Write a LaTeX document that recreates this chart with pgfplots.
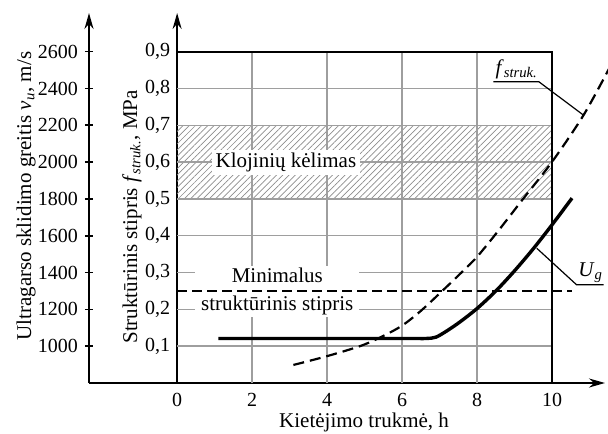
\documentclass[border=0pt]{standalone}
\usepackage{fontspec}
\setmainfont{Liberation Serif}
\usepackage{pgfplots}
\usepackage{pgfplotstable}
\pgfplotsset{compat=1.18}
\usetikzlibrary{arrows.meta,patterns.meta}

% U_g on the velocity axis (m/s)
\pgfplotstableread{
x v
1.1 1042
6.2 1042
6.65 1042
6.9 1049
7.2 1084
7.55 1133
8.0 1205
8.5 1300
9.0 1410
9.5 1530
10.0 1660
10.53 1804
}\ugdata

% structural strength f_struk (MPa)
\pgfplotstableread{
x f
3.10 0.049
4.0 0.073
4.9 0.101
5.5 0.128
6.0 0.156
6.5 0.196
7.1 0.253
7.5 0.292
8.0 0.343
8.6 0.418
9.24 0.502
10.0 0.601
10.84 0.728
11.55 0.86
}\fdata

\definecolor{gridc}{gray}{0.62}

\begin{document}
\begin{tikzpicture}[font=\fontsize{10.5}{13}\selectfont]
\begin{axis}[
  at={(0,0)}, anchor=south west,
  scale only axis, width=258pt, height=185pt,
  xmin=-2.35, xmax=11.41, ymin=0, ymax=1.005,
  axis lines=middle,
  axis line style={line width=0.9pt},
  x axis line style={-{Stealth[length=8pt,width=4.5pt]}},
  y axis line style={-{Stealth[length=8pt,width=4.5pt]}},
  xtick={0,2,4,6,8,10},
  ytick={0.1,0.2,0.3,0.4,0.5,0.6,0.7,0.8,0.9},
  hide obscured x ticks=false,
  hide obscured y ticks=false,
  major tick length=0pt,
  tick label style={font=\fontsize{10}{12}\selectfont},
  /pgf/number format/assume math mode=true,
  yticklabel style={/pgf/number format/.cd, fixed, fixed zerofill, precision=1, use comma},
  xticklabel style={yshift=-1.5pt},
  clip=false,
  every axis x label/.style={at={(axis description cs:0.533,-0.106)}, anchor=center},
  every axis y label/.style={at={(axis description cs:0.0833,0.449)}, anchor=center, rotate=90},
  xlabel={Kietėjimo trukmė, h},
  ylabel={Struktūrinis stipris \textit{f}\textsubscript{\textit{struk.}}, MPa},
]
% hatched band
\fill[pattern={Lines[angle=45,distance=2.2pt,line width=0.35pt]}, pattern color=black!45]
  (axis cs:0,0.5) rectangle (axis cs:10,0.7);
% grid
\draw[gridc, line width=0.7pt] (axis cs:2,0) -- (axis cs:2,0.9);
\draw[gridc, line width=0.7pt] (axis cs:4,0) -- (axis cs:4,0.9);
\draw[gridc, line width=0.7pt] (axis cs:6,0) -- (axis cs:6,0.9);
\draw[gridc, line width=0.7pt] (axis cs:8,0) -- (axis cs:8,0.9);
\draw[gridc, line width=0.7pt] (axis cs:0,0.1) -- (axis cs:10,0.1);
\draw[gridc, line width=0.7pt] (axis cs:0,0.2) -- (axis cs:10,0.2);
\draw[gridc, line width=0.7pt] (axis cs:0,0.3) -- (axis cs:10,0.3);
\draw[gridc, line width=0.7pt] (axis cs:0,0.4) -- (axis cs:10,0.4);
\draw[gridc, line width=0.7pt] (axis cs:0,0.5) -- (axis cs:10,0.5);
\draw[gridc, line width=0.7pt] (axis cs:0,0.6) -- (axis cs:10,0.6);
\draw[gridc, line width=0.7pt] (axis cs:0,0.7) -- (axis cs:10,0.7);
\draw[gridc, line width=0.7pt] (axis cs:0,0.8) -- (axis cs:10,0.8);
% frame
\draw[line width=0.9pt] (axis cs:0,0.9) -- (axis cs:10,0.9) -- (axis cs:10,0);
% labels with white background
\node[fill=white, inner xsep=2pt, inner ysep=1.5pt] at (axis cs:2.9,0.6) {Klojinių kėlimas};
\node[fill=white, align=center, inner xsep=3pt, inner ysep=1pt, font=\fontsize{10.5}{14}\selectfont]
  at (axis cs:2.67,0.2485) {Minimalus\\struktūrinis stipris};
% minimum structural strength line
\addplot[black, line width=0.8pt, dash pattern=on 5pt off 2.5pt] coordinates {(0,0.25) (10.53,0.25)};
% f_struk curve
\addplot[black, line width=1.1pt, smooth, dash pattern=on 5.5pt off 3pt] table[x=x,y=f] {\fdata};
% f_struk leader
\draw[line width=0.6pt] (axis cs:8.43,0.818) -- (axis cs:9.65,0.818) -- (axis cs:10.83,0.728);
\node[anchor=base west, inner sep=0pt] at (axis cs:8.48,0.838) {\textit{f}\textsubscript{\textit{struk.}}};
% U_g leader
\draw[line width=0.6pt] (axis cs:9.59,0.366) -- (axis cs:10.65,0.267) -- (axis cs:11.37,0.267);
\node[anchor=base west, inner sep=0pt] at (axis cs:10.69,0.29) {\textit{U}\textsubscript{\textit{g}}};
\end{axis}

\begin{axis}[
  at={(0,0)}, anchor=south west,
  scale only axis, width=258pt, height=185pt,
  xmin=-2.35, xmax=11.41, ymin=800, ymax=2810,
  axis x line=none, axis y line=left,
  xtick=\empty,
  y axis line style={line width=0.9pt, -{Stealth[length=8pt,width=4.5pt]}},
  ytick={1000,1200,1400,1600,1800,2000,2200,2400,2600},
  tick align=center, major tick length=4pt,
  tick style={line width=0.8pt, black},
  tick label style={font=\fontsize{10}{12}\selectfont},
  /pgf/number format/assume math mode=true,
  yticklabel style={/pgf/number format/set thousands separator={}},
  clip=false,
  every axis y label/.style={at={(axis description cs:-0.122,0.505)}, anchor=center, rotate=90},
  ylabel={Ultragarso sklidimo greitis \textit{v}\textsubscript{\textit{u}}, m/s},
]
\addplot[black, line width=1.7pt, smooth, tension=0.5] table[x=x,y=v] {\ugdata};
\end{axis}
\pgfresetboundingbox
\path[use as bounding box] (-44.5pt,-25pt) rectangle (259.5pt,191.5pt);
\end{tikzpicture}
\end{document}
